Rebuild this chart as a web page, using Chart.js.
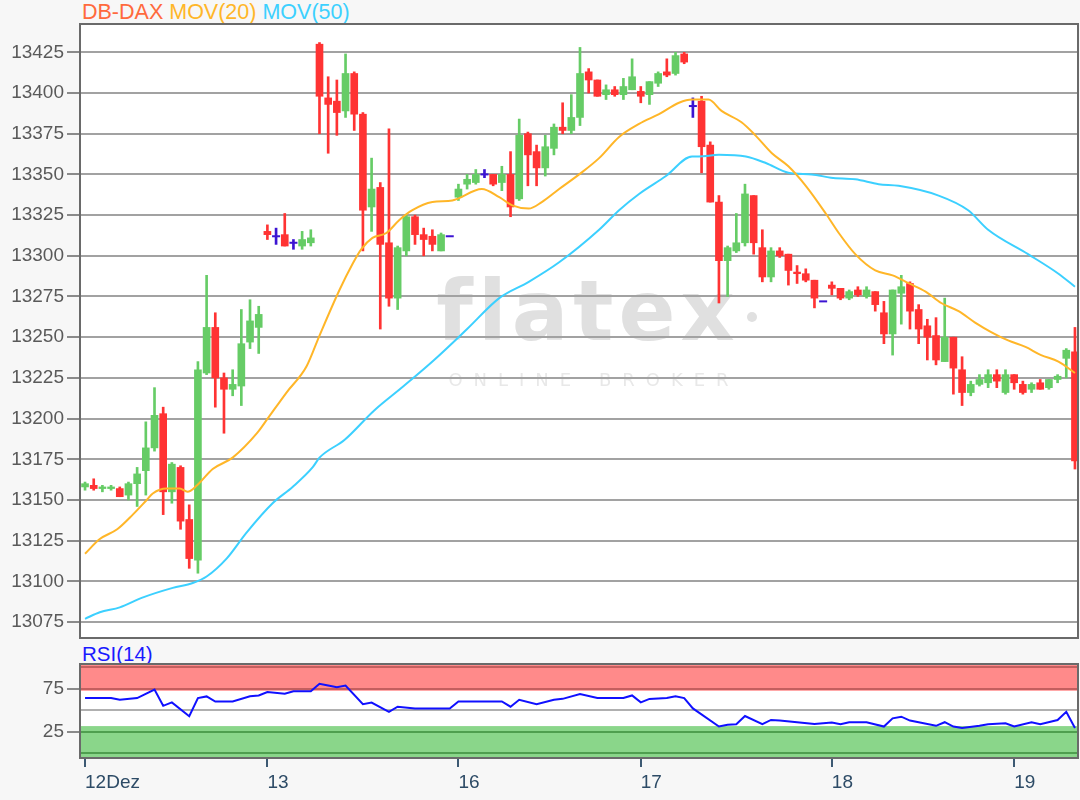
<!DOCTYPE html>
<html>
<head>
<meta charset="utf-8">
<script src="https://cdn.jsdelivr.net/npm/chart.js@4.4.1/dist/chart.umd.min.js"></script>
<style>
  body { margin: 0; background: #f7f7f7; width: 1080px; height: 800px; overflow: hidden; font-family: "Liberation Sans", Arial, sans-serif; }
  #legend { position: absolute; left: 82px; top: -1px; font-size: 21.5px; line-height: 26px; white-space: nowrap; }
  #rsiTitle { position: absolute; left: 82px; top: 642px; font-size: 20.5px; line-height: 24px; color: #1a1aff; }
  #mainChart { position: absolute; left: 0; top: 0; }
  #rsiChart { position: absolute; left: 0; top: 640px; }
</style>
</head>
<body>
<div id="legend"><span style="color:#ff6a3d">DB-DAX</span> <span style="color:#ffb628">MOV(20)</span> <span style="color:#3cd0ff">MOV(50)</span></div>
<div id="rsiTitle">RSI(14)</div>
<canvas id="mainChart" width="1080" height="645"></canvas>
<canvas id="rsiChart" width="1080" height="160"></canvas>
<script>
// day labels and the candle index where each day starts
const dayLabels = ['12Dez', '13', '16', '17', '18', '19'];
const dayStart = [0, 21, 43, 64, 86, 107];

const priceTicks = [13075, 13100, 13125, 13150, 13175, 13200, 13225, 13250, 13275, 13300, 13325, 13350, 13375, 13400, 13425];
const rsiTicks = [0, 25, 50, 75, 100];
const rsiLabelled = [25, 75];

// candles, one per slot
const opens = [13158,13159,13157,13157,13157,13153,13160,13168,13182,13203,
  13155,13170,13138,13113,13228,13256,13225,13218,13220,13247,
  13256,13315,13312,13313,13308,13306,13308,13430,13397,13395,
  13389,13412,13387,13330,13342,13308,13274,13303,13324,13313,
  13312,13303,13312,13336,13344,13345,13350,13350,13345,13350,
  13335,13375,13364,13354,13366,13379,13377,13385,13413,13408,
  13399,13402,13399,13402,13401,13399,13406,13413,13412,13424,
  13392,13395,13368,13333,13297,13303,13308,13337,13305,13287,
  13303,13301,13290,13289,13285,13272,13282,13280,13274,13279,
  13275,13278,13265,13252,13277,13283,13267,13257,13251,13235,
  13250,13230,13216,13221,13222,13227,13216,13227,13221,13218,
  13222,13219,13224,13237,13241];
const highs = [13161,13163,13159,13159,13158,13161,13170,13198,13219,13207,
  13173,13171,13147,13235,13288,13265,13228,13230,13267,13273,
  13269,13319,13317,13326,13310,13315,13316,13431,13410,13408,
  13424,13413,13388,13360,13345,13378,13306,13325,13325,13317,
  13316,13314,13312,13344,13350,13353,13353,13350,13355,13364,
  13384,13376,13368,13374,13381,13394,13399,13428,13415,13408,
  13405,13404,13409,13421,13404,13407,13413,13421,13425,13425,
  13397,13398,13370,13337,13306,13326,13344,13337,13316,13305,
  13305,13301,13294,13292,13285,13272,13284,13280,13279,13281,
  13281,13278,13272,13279,13288,13284,13270,13261,13262,13274,
  13250,13238,13223,13227,13230,13230,13230,13227,13223,13222,
  13224,13224,13227,13243,13256];
const lows = [13156,13156,13155,13156,13152,13150,13146,13153,13180,13141,
  13148,13132,13108,13105,13227,13207,13191,13214,13208,13243,
  13240,13310,13307,13306,13304,13304,13306,13375,13363,13374,
  13385,13377,13303,13315,13255,13269,13267,13300,13307,13300,
  13303,13303,13312,13334,13341,13344,13348,13343,13340,13324,
  13334,13343,13343,13349,13362,13375,13375,13380,13400,13398,
  13396,13398,13396,13402,13394,13393,13404,13410,13411,13418,
  13385,13351,13333,13271,13275,13302,13306,13301,13284,13284,
  13299,13282,13283,13284,13268,13272,13276,13273,13273,13275,
  13274,13266,13246,13239,13258,13255,13246,13236,13233,13235,
  13215,13208,13214,13220,13219,13219,13215,13218,13215,13216,
  13218,13218,13222,13225,13169];
const closes = [13160,13157,13158,13158,13152,13160,13166,13182,13202,13155,
  13172,13137,13114,13230,13256,13225,13218,13221,13246,13260,
  13264,13313,13312,13306,13308,13310,13311,13398,13393,13388,
  13412,13387,13328,13341,13307,13274,13305,13324,13313,13310,
  13307,13313,13312,13341,13347,13350,13350,13344,13350,13330,
  13374,13362,13354,13367,13379,13377,13385,13412,13408,13398,
  13402,13399,13404,13410,13398,13407,13412,13411,13423,13419,
  13392,13367,13333,13297,13305,13308,13338,13308,13287,13303,
  13300,13291,13289,13285,13274,13272,13280,13274,13278,13276,
  13279,13270,13252,13279,13281,13266,13255,13250,13236,13250,
  13231,13216,13221,13224,13227,13223,13227,13222,13216,13221,
  13218,13224,13226,13242,13174];

// moving averages (slot position, value)
const ma20X = [0, 1.7, 3.7, 5.5, 7.1, 7.8, 9.4, 10.9, 11.8, 12.9, 14.7, 17, 19.8, 20.9, 23.2, 25.5, 27, 29.3, 30.8, 31.8,
  33.1, 34.7, 36.2, 37.7, 40, 42.3, 45.7, 47.7, 49.2, 51.1, 52.6, 54.6, 56.9, 59.2, 61.5, 63.8, 66.1, 68.4, 69.9, 71.8,
  73.3, 75.6, 77.2, 79.1, 81, 83, 85.3, 86.8, 88.7, 91, 93, 94.9, 96.8, 98.6, 100.6, 102.5, 104.4, 106.3, 108.3, 110.1, 112.1, 114];
const ma20 = [13117, 13126, 13132, 13141, 13150, 13154, 13157, 13157, 13155, 13159, 13169, 13176, 13191, 13199, 13216, 13232, 13251, 13279, 13295, 13304,
  13311, 13314, 13322, 13328, 13333, 13334, 13341, 13336, 13331, 13329, 13333, 13341, 13350, 13360, 13373, 13381, 13387, 13394, 13396, 13396,
  13389, 13382, 13374, 13363, 13355, 13343, 13326, 13314, 13301, 13291, 13288, 13283, 13278, 13271, 13266, 13259, 13253, 13248, 13244, 13239, 13235, 13228];
const ma50X = [0, 1.7, 4, 6.6, 10.1, 12.4, 14, 16.3, 18.6, 21.6, 23.9, 26.2, 27, 29.9, 33.3, 36.7, 40.2, 44, 47.7, 51.1,
  54.6, 59.2, 61.5, 63.8, 66.9, 69.9, 70.7, 73, 76.1, 78.4, 81, 83.7, 85.9, 88.7, 91.4, 93.7, 98.3, 101.7, 104, 108.6, 112.1, 114];
const ma50 = [13077, 13081, 13084, 13090, 13096, 13099, 13103, 13114, 13130, 13148, 13158, 13170, 13176, 13187, 13205, 13220, 13236, 13255, 13274, 13284,
  13296, 13316, 13328, 13338, 13349, 13361, 13361, 13362, 13361, 13357, 13351, 13350, 13348, 13347, 13344, 13343, 13337, 13328, 13316, 13301, 13289, 13281];

// RSI(14)
const rsiX = [0, 3, 4, 6, 8, 9, 10, 12, 13, 14, 15, 17, 19, 20, 21, 23, 24, 26, 27, 28,
  29, 30, 32, 33, 35, 36, 38, 42, 43, 48, 49, 50, 52, 54, 55, 57, 59, 62, 63, 64,
  65, 67, 68, 69, 70, 73, 74, 75, 76, 78, 79, 80, 84, 86, 87, 88, 90, 92, 93, 94,
  95, 98, 99, 100, 101, 103, 104, 106, 107, 109, 110, 112, 113, 114];
const rsi = [64, 64, 62, 64, 73.8, 55, 59, 43, 64, 65.9, 60, 60, 66, 67, 71, 69, 71.8, 71.8, 80.6, 78.6,
  76.6, 78.6, 56.8, 58.7, 48, 54, 52, 52, 60, 60, 54, 62, 56.8, 62, 63.1, 68.6, 64, 64, 67, 59,
  63, 64, 66, 64, 52, 31, 33, 33.7, 43.2, 33.7, 38.6, 37.9, 34, 35.6, 33.7, 36, 36, 31, 40.5, 42.4,
  37.9, 31.8, 36, 31, 29.2, 31.8, 33.7, 34.8, 31, 36, 33.7, 38.6, 48.1, 29.2];
const overbought = 72.5;
const oversold = 31.5;

const UP = '#66cc66', DOWN = '#ff3333', FLAT = '#3c14d2';
const xMin = -0.58, xMax = 114.35;

function candleColor(i) {
  if (closes[i] > opens[i]) return UP;
  if (closes[i] < opens[i]) return DOWN;
  return FLAT;
}

const wickData = [], wickColors = [];
const bodyData = [], bodyColors = [];
const dojiData = [];
opens.forEach((o, i) => {
  const c = closes[i];
  wickData.push({ x: i, y: [lows[i], highs[i]] });
  wickColors.push(candleColor(i));
  if (o === c) {
    dojiData.push({ x: i, y: o });
  } else {
    bodyData.push({ x: i, y: [Math.min(o, c), Math.max(o, c)] });
    bodyColors.push(candleColor(i));
  }
});

const panelPlugin = {
  id: 'panel',
  beforeDraw(chart) {
    const { ctx, chartArea: a } = chart;
    ctx.save();
    ctx.fillStyle = '#ffffff';
    ctx.fillRect(a.left, a.top, a.right - a.left, a.bottom - a.top);
    ctx.restore();
  },
  afterDraw(chart) {
    const { ctx, chartArea: a } = chart;
    ctx.save();
    ctx.strokeStyle = '#6a6a6a';
    ctx.lineWidth = 2;
    ctx.strokeRect(a.left, a.top, a.right - a.left, a.bottom - a.top);
    ctx.restore();
  }
};

// faint logo behind the candles
const watermark = {
  id: 'watermark',
  beforeDraw(chart) {
    const { ctx, chartArea: a } = chart;
    const cx = a.left + 508;
    ctx.save();
    ctx.textAlign = 'center';
    ctx.fillStyle = '#e0e0e0';
    ctx.font = 'bold 84px "DejaVu Sans"';
    ctx.letterSpacing = '5px';
    ctx.fillText('flatex', cx, a.top + 316);
    ctx.beginPath();
    ctx.arc(cx + 164, a.top + 293, 5, 0, Math.PI * 2);
    ctx.fill();
    ctx.fillStyle = '#e8e8e8';
    ctx.font = '18px "DejaVu Sans"';
    ctx.letterSpacing = '11px';
    ctx.fillText('ONLINE BROKER', cx + 6, a.top + 362);
    ctx.restore();
  }
};

const rsiBands = {
  id: 'rsiBands',
  beforeDraw(chart) {
    const { ctx, chartArea: a, scales: { y } } = chart;
    const obY = y.getPixelForValue(overbought);
    const osY = y.getPixelForValue(oversold);
    ctx.save();
    ctx.fillStyle = '#ff8a8a';
    ctx.fillRect(a.left, a.top, a.right - a.left, obY - a.top);
    ctx.fillStyle = '#8ad68a';
    ctx.fillRect(a.left, osY, a.right - a.left, a.bottom - osY);
    ctx.restore();
  }
};

const tickFont = { family: '"Liberation Sans", Arial, sans-serif', size: 19 };

function fitY(s) {
  s.width = 80;
  s.paddingTop = 0;
  s.paddingBottom = 0;
}

new Chart(document.getElementById('mainChart'), {
  type: 'bar',
  data: {
    datasets: [
      { type: 'line', data: ma20X.map((x, i) => ({ x, y: ma20[i] })), borderColor: '#ffb628', borderWidth: 2,
        pointRadius: 0, cubicInterpolationMode: 'monotone', order: 1 },
      { type: 'line', data: ma50X.map((x, i) => ({ x, y: ma50[i] })), borderColor: '#3cd0ff', borderWidth: 2,
        pointRadius: 0, cubicInterpolationMode: 'monotone', order: 1 },
      { type: 'line', data: dojiData, showLine: false, pointStyle: 'line', pointRadius: 4,
        pointBorderWidth: 2, pointBorderColor: FLAT, order: 0 },
      { data: bodyData, backgroundColor: bodyColors, barThickness: 7, grouped: false, order: 2 },
      { data: wickData, backgroundColor: wickColors, barThickness: 2, grouped: false, order: 3 }
    ]
  },
  options: {
    responsive: false,
    animation: false,
    layout: { autoPadding: false, padding: { top: 24, right: 2, bottom: 7, left: 0 } },
    plugins: { legend: { display: false }, tooltip: { enabled: false } },
    scales: {
      x: { type: 'linear', min: xMin, max: xMax, offset: false, display: false },
      y: {
        min: 13065.2, max: 13442.4, beginAtZero: false,
        afterBuildTicks: s => { s.ticks = priceTicks.map(v => ({ value: v })); },
        afterFit: fitY,
        border: { display: false },
        grid: { color: '#a2a2a2', lineWidth: 2, tickLength: 13, tickColor: '#8a8a8a' },
        ticks: { color: '#5a5a5a', font: tickFont, padding: 3, autoSkip: false, callback: v => String(v) }
      }
    }
  },
  plugins: [panelPlugin, watermark]
});

new Chart(document.getElementById('rsiChart'), {
  type: 'line',
  data: {
    datasets: [
      { data: rsiX.map((x, i) => ({ x, y: rsi[i] })), borderColor: '#1010ff', borderWidth: 2, pointRadius: 0, tension: 0 }
    ]
  },
  options: {
    responsive: false,
    animation: false,
    layout: { autoPadding: false, padding: { top: 24, right: 2, bottom: 0, left: 0 } },
    plugins: { legend: { display: false }, tooltip: { enabled: false } },
    scales: {
      x: {
        type: 'linear', min: xMin, max: xMax, offset: false,
        afterBuildTicks: s => { s.ticks = dayStart.map(v => ({ value: v })); },
        afterFit: s => { s.height = 42; s.paddingLeft = 0; s.paddingRight = 0; },
        border: { display: false },
        grid: { drawOnChartArea: false, tickLength: 9, tickColor: '#3d5a73', lineWidth: 2 },
        ticks: {
          align: 'start', color: '#2d4b66', font: tickFont, padding: 4, maxRotation: 0, autoSkip: false,
          callback: v => dayLabels[dayStart.indexOf(v)]
        }
      },
      y: {
        min: -5.5, max: 103.5,
        afterBuildTicks: s => { s.ticks = rsiTicks.map(v => ({ value: v })); },
        afterFit: fitY,
        border: { display: false },
        grid: {
          lineWidth: 2, tickLength: 13,
          color: c => (c.tick.value >= 75 ? '#c45f5f' : c.tick.value <= 25 ? '#4f9f4f' : '#b0b0b0'),
          tickColor: c => (rsiLabelled.includes(c.tick.value) ? '#8a8a8a' : 'rgba(0,0,0,0)')
        },
        ticks: { color: '#5a5a5a', font: tickFont, padding: 3, autoSkip: false,
          callback: v => (rsiLabelled.includes(v) ? String(v) : '') }
      }
    }
  },
  plugins: [panelPlugin, rsiBands]
});
</script>
</body>
</html>
